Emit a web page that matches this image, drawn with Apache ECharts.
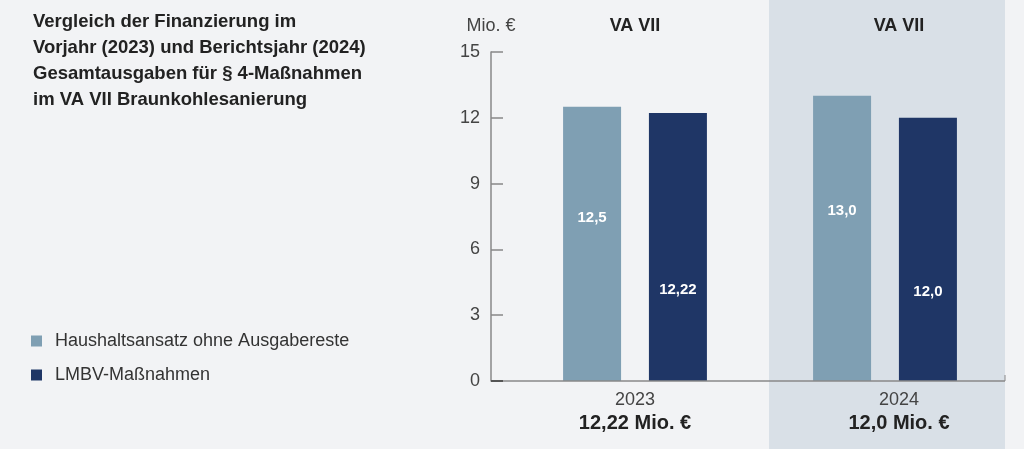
<!DOCTYPE html>
<html>
<head>
<meta charset="utf-8">
<script src="https://cdn.jsdelivr.net/npm/echarts@6/dist/echarts.min.js"></script>
<style>
  html, body { margin: 0; padding: 0; background: #f2f3f5; }
  #chart { width: 1024px; height: 449px; }
</style>
</head>
<body>
<div id="chart"></div>
<script>
// Daten
const years = ['2023', '2024'];
const groupTitles = ['VA VII', 'VA VII'];
const totals = ['12,22 Mio. €', '12,0 Mio. €'];
const haushaltsansatz = [12.5, 13.0];
const lmbv = [12.22, 12.0];
const seriesNames = ['Haushaltsansatz ohne Ausgabereste', 'LMBV-Maßnahmen'];
const yTicks = [0, 15, 3]; // min, max, interval

const FONT = '"Liberation Sans", Arial, sans-serif';
const fmt = v => v.toLocaleString('de-DE', { minimumFractionDigits: 1, maximumFractionDigits: 2 });

let myChart = echarts.init(document.getElementById('chart'));

myChart.setOption({
    backgroundColor: '#f2f3f5',
    textStyle: { fontFamily: FONT },
    animation: false,
    title: {
        text: 'Vergleich der Finanzierung im\nVorjahr (2023) und Berichtsjahr (2024)\nGesamtausgaben für § 4-Maßnahmen\nim VA VII Braunkohlesanierung',
        left: 33,
        top: 9,
        padding: 0,
        textStyle: { fontFamily: FONT, fontSize: 18.5, fontWeight: 'bold', color: '#222', lineHeight: 26 }
    },
    legend: {
        orient: 'vertical',
        left: 26,
        top: 327,
        icon: 'rect',
        itemWidth: 11,
        itemHeight: 11,
        itemGap: 16,
        selectedMode: false,
        textStyle: { fontFamily: FONT, fontSize: 18, color: '#333', padding: [0, 0, 0, 8] },
        data: seriesNames
    },
    graphic: [
        {
            type: 'rect',
            z: -10,
            shape: { x: 769, y: 0, width: 236, height: 449 },
            style: { fill: '#d9e0e7' }
        },
        {
            type: 'line',
            z: 10,
            shape: { x1: 491, y1: 381, x2: 1005, y2: 381 },
            style: { stroke: '#888', lineWidth: 1.5 }
        },
        {
            type: 'line',
            z: 10,
            shape: { x1: 491, y1: 381, x2: 503, y2: 381 },
            style: { stroke: '#555', lineWidth: 2 }
        },
        {
            type: 'line',
            z: 10,
            shape: { x1: 1005, y1: 375, x2: 1005, y2: 381 },
            style: { stroke: '#888', lineWidth: 1 }
        }
    ],
    grid: { left: 510, right: 14, top: 52, bottom: 68 },
    xAxis: [
        {
            type: 'category',
            data: years,
            axisLine: { show: false },
            axisTick: { show: false },
            axisLabel: {
                margin: 8,
                formatter: (v, i) => i === 0
                    ? '{y|' + v + '}\n{t|' + totals[i] + '}'
                    : '{y2|' + v + '}\n{t2|' + totals[i] + '}',
                rich: {
                    y: { fontFamily: FONT, fontSize: 18, color: '#444', lineHeight: 22 },
                    t: { fontFamily: FONT, fontSize: 20, fontWeight: 'bold', color: '#222', lineHeight: 24 },
                    y2: { fontFamily: FONT, fontSize: 18, color: '#444', lineHeight: 22, padding: [0, 0, 0, 28] },
                    t2: { fontFamily: FONT, fontSize: 20, fontWeight: 'bold', color: '#222', lineHeight: 24, padding: [0, 0, 0, 28] }
                }
            }
        },
        {
            type: 'category',
            position: 'top',
            data: groupTitles,
            axisLine: { show: false },
            axisTick: { show: false },
            axisLabel: {
                margin: 17,
                formatter: (v, i) => i === 0 ? '{a|' + v + '}' : '{b|' + v + '}',
                rich: {
                    a: { fontFamily: FONT, fontSize: 18, fontWeight: 'bold', color: '#222' },
                    b: { fontFamily: FONT, fontSize: 18, fontWeight: 'bold', color: '#222', padding: [0, 0, 0, 28] }
                }
            }
        }
    ],
    yAxis: {
        type: 'value',
        min: yTicks[0],
        max: yTicks[1],
        interval: yTicks[2],
        offset: 19,
        name: 'Mio. €',
        nameLocation: 'end',
        nameGap: 17,
        nameTextStyle: { fontFamily: FONT, fontSize: 18, color: '#444', align: 'center' },
        axisLine: { show: true, lineStyle: { color: '#888', width: 1.5 } },
        axisTick: { show: true, inside: true, length: 12, lineStyle: { color: '#888', width: 1.5 } },
        splitLine: { show: false },
        axisLabel: { margin: 11, fontFamily: FONT, fontSize: 18, color: '#444' }
    },
    series: [
        {
            name: seriesNames[0],
            type: 'bar',
            barWidth: 58,
            barGap: '48%',
            data: haushaltsansatz,
            itemStyle: { color: '#7f9fb3' },
            label: {
                show: true,
                position: ['50%', '40.5%'],
                align: 'center',
                verticalAlign: 'middle',
                formatter: p => fmt(p.value),
                fontFamily: FONT, fontSize: 15, fontWeight: 'bold', color: '#fff'
            }
        },
        {
            name: seriesNames[1],
            type: 'bar',
            barWidth: 58,
            data: lmbv,
            itemStyle: { color: '#1f3666' },
            label: {
                show: true,
                position: ['50%', '66%'],
                align: 'center',
                verticalAlign: 'middle',
                formatter: p => fmt(p.value),
                fontFamily: FONT, fontSize: 15, fontWeight: 'bold', color: '#fff'
            }
        }
    ]
});
</script>
</body>
</html>
